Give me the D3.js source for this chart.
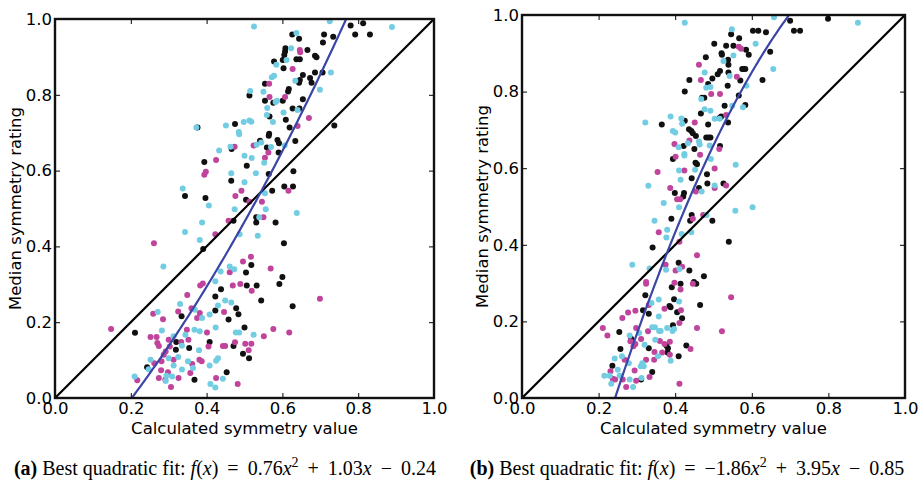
<!DOCTYPE html>
<html>
<head>
<meta charset="utf-8">
<script src="https://cdn.jsdelivr.net/npm/d3@7"></script>
<style>
  html, body { margin: 0; padding: 0; background: #fff; }
  svg { display: block; }
</style>
</head>
<body>
<svg id="chart" width="922" height="482"></svg>
<script>
// Tick values shared by both axes of both panels
const tickValues = [0, 0.2, 0.4, 0.6, 0.8, 1.0];

// Quadratic fit coefficients [a, b, c] for f(x) = a x^2 + b x + c
const fitA = [0.76, 1.03, -0.24];
const fitB = [-1.86, 3.95, -0.85];

// Panel (a): [calculated value, median rating]
const leftBlack = [[0.211,0.172],[0.243,0.081],[0.32,0.148],[0.319,0.127],[0.334,0.216],[0.354,0.132],[0.368,0.048],[0.391,0.393],[0.408,0.148],[0.423,0.268],[0.438,0.287],[0.423,0.231],[0.458,0.207],[0.453,0.068],[0.471,0.137],[0.484,0.221],[0.478,0.237],[0.496,0.117],[0.512,0.105],[0.5,0.186],[0.504,0.331],[0.506,0.297],[0.518,0.351],[0.532,0.297],[0.544,0.257],[0.592,0.301],[0.600,0.319],[0.627,0.242],[0.604,0.408],[0.531,0.477],[0.531,0.463],[0.582,0.463],[0.471,0.468],[0.343,0.533],[0.397,0.528],[0.504,0.523],[0.465,0.573],[0.573,0.547],[0.605,0.558],[0.628,0.558],[0.394,0.623],[0.506,0.613],[0.629,0.598],[0.564,0.591],[0.466,0.657],[0.541,0.679],[0.565,0.697],[0.564,0.692],[0.559,0.661],[0.587,0.681],[0.591,0.672],[0.590,0.648],[0.634,0.678],[0.475,0.723],[0.376,0.714],[0.609,0.734],[0.619,0.714],[0.737,0.719],[0.566,0.743],[0.627,0.764],[0.645,0.764],[0.554,0.784],[0.576,0.779],[0.601,0.784],[0.654,0.788],[0.513,0.798],[0.554,0.829],[0.617,0.815],[0.615,0.809],[0.644,0.832],[0.646,0.839],[0.677,0.832],[0.654,0.852],[0.673,0.844],[0.686,0.859],[0.706,0.859],[0.603,0.870],[0.578,0.888],[0.601,0.892],[0.637,0.894],[0.646,0.894],[0.686,0.903],[0.690,0.899],[0.666,0.918],[0.608,0.923],[0.607,0.914],[0.605,0.905],[0.707,0.938],[0.644,0.948],[0.626,0.959],[0.710,0.959],[0.734,0.953],[0.780,0.983],[0.813,0.989],[0.792,0.959],[0.831,0.959]];
const leftCyan = [[0.525,0.980],[0.725,0.994],[0.889,0.979],[0.637,0.963],[0.623,0.923],[0.611,0.892],[0.584,0.879],[0.578,0.850],[0.572,0.846],[0.728,0.859],[0.634,0.837],[0.515,0.810],[0.550,0.808],[0.699,0.813],[0.582,0.781],[0.586,0.784],[0.603,0.753],[0.640,0.760],[0.560,0.765],[0.559,0.747],[0.575,0.728],[0.451,0.719],[0.498,0.728],[0.513,0.732],[0.518,0.729],[0.373,0.714],[0.485,0.702],[0.486,0.696],[0.544,0.674],[0.532,0.668],[0.570,0.662],[0.606,0.666],[0.433,0.653],[0.463,0.663],[0.500,0.639],[0.519,0.633],[0.465,0.593],[0.530,0.593],[0.552,0.621],[0.500,0.569],[0.337,0.553],[0.406,0.508],[0.554,0.540],[0.474,0.498],[0.556,0.498],[0.638,0.488],[0.539,0.477],[0.388,0.463],[0.343,0.438],[0.487,0.432],[0.535,0.428],[0.382,0.417],[0.286,0.347],[0.461,0.347],[0.437,0.334],[0.473,0.340],[0.423,0.308],[0.330,0.248],[0.449,0.257],[0.465,0.252],[0.271,0.227],[0.369,0.233],[0.430,0.244],[0.408,0.220],[0.388,0.211],[0.282,0.178],[0.313,0.163],[0.344,0.167],[0.368,0.180],[0.382,0.176],[0.424,0.186],[0.477,0.173],[0.486,0.173],[0.524,0.167],[0.335,0.138],[0.380,0.126],[0.252,0.101],[0.247,0.076],[0.300,0.105],[0.313,0.086],[0.325,0.108],[0.294,0.059],[0.309,0.057],[0.292,0.045],[0.210,0.057],[0.335,0.075],[0.351,0.097],[0.364,0.079],[0.408,0.086],[0.425,0.098],[0.430,0.105],[0.443,0.051],[0.410,0.037],[0.423,0.028]];
const leftMagenta = [[0.646,0.918],[0.647,0.912],[0.627,0.868],[0.565,0.829],[0.566,0.794],[0.607,0.794],[0.670,0.739],[0.640,0.718],[0.524,0.666],[0.474,0.663],[0.563,0.648],[0.425,0.628],[0.398,0.597],[0.394,0.589],[0.554,0.634],[0.492,0.547],[0.476,0.533],[0.513,0.518],[0.546,0.518],[0.616,0.547],[0.550,0.477],[0.458,0.468],[0.423,0.432],[0.261,0.408],[0.517,0.373],[0.496,0.360],[0.569,0.342],[0.461,0.332],[0.383,0.297],[0.390,0.302],[0.469,0.297],[0.489,0.301],[0.519,0.283],[0.349,0.272],[0.360,0.237],[0.325,0.228],[0.259,0.222],[0.285,0.208],[0.382,0.224],[0.446,0.227],[0.699,0.262],[0.148,0.182],[0.375,0.211],[0.252,0.161],[0.268,0.161],[0.270,0.145],[0.274,0.137],[0.300,0.154],[0.303,0.136],[0.292,0.123],[0.348,0.180],[0.401,0.173],[0.576,0.182],[0.551,0.163],[0.618,0.173],[0.333,0.148],[0.352,0.154],[0.449,0.137],[0.443,0.137],[0.502,0.143],[0.518,0.143],[0.511,0.126],[0.405,0.136],[0.475,0.147],[0.262,0.092],[0.287,0.114],[0.281,0.097],[0.313,0.101],[0.280,0.073],[0.298,0.068],[0.274,0.053],[0.291,0.048],[0.326,0.053],[0.306,0.029],[0.217,0.047],[0.357,0.066],[0.362,0.090],[0.381,0.101],[0.387,0.097],[0.425,0.053],[0.482,0.037]];

// Panel (b): [calculated value, median rating]
const rightBlack = [[0.700,0.985],[0.799,0.990],[0.710,0.959],[0.726,0.959],[0.603,0.959],[0.617,0.959],[0.637,0.955],[0.546,0.950],[0.567,0.939],[0.502,0.925],[0.533,0.920],[0.552,0.920],[0.585,0.909],[0.648,0.904],[0.592,0.896],[0.521,0.900],[0.522,0.896],[0.480,0.890],[0.538,0.883],[0.539,0.870],[0.575,0.859],[0.579,0.859],[0.583,0.859],[0.517,0.854],[0.511,0.845],[0.539,0.850],[0.437,0.830],[0.497,0.834],[0.628,0.830],[0.570,0.829],[0.486,0.820],[0.537,0.815],[0.425,0.800],[0.470,0.784],[0.476,0.784],[0.566,0.790],[0.583,0.765],[0.529,0.763],[0.467,0.743],[0.520,0.735],[0.516,0.731],[0.365,0.714],[0.425,0.724],[0.486,0.714],[0.538,0.719],[0.436,0.702],[0.442,0.697],[0.446,0.691],[0.454,0.684],[0.481,0.680],[0.487,0.680],[0.492,0.680],[0.422,0.658],[0.450,0.650],[0.517,0.658],[0.394,0.624],[0.453,0.614],[0.457,0.610],[0.483,0.584],[0.443,0.574],[0.484,0.560],[0.526,0.560],[0.462,0.548],[0.399,0.535],[0.423,0.535],[0.421,0.526],[0.443,0.478],[0.390,0.468],[0.439,0.463],[0.497,0.463],[0.540,0.408],[0.341,0.393],[0.409,0.353],[0.437,0.333],[0.475,0.318],[0.449,0.303],[0.455,0.298],[0.414,0.298],[0.391,0.289],[0.322,0.268],[0.397,0.258],[0.465,0.243],[0.316,0.229],[0.331,0.220],[0.385,0.240],[0.388,0.237],[0.405,0.224],[0.418,0.208],[0.394,0.190],[0.254,0.172],[0.285,0.155],[0.257,0.128],[0.331,0.130],[0.377,0.137],[0.380,0.119],[0.429,0.137],[0.409,0.109],[0.236,0.084],[0.311,0.048],[0.340,0.068],[0.381,0.130]];
const rightCyan = [[0.425,0.980],[0.658,0.994],[0.877,0.980],[0.548,0.963],[0.610,0.925],[0.552,0.894],[0.526,0.880],[0.656,0.859],[0.477,0.850],[0.542,0.841],[0.481,0.810],[0.492,0.812],[0.586,0.815],[0.468,0.781],[0.577,0.759],[0.477,0.754],[0.492,0.750],[0.549,0.763],[0.503,0.729],[0.516,0.729],[0.388,0.735],[0.416,0.730],[0.322,0.719],[0.418,0.716],[0.394,0.697],[0.400,0.693],[0.462,0.670],[0.464,0.662],[0.433,0.665],[0.409,0.655],[0.490,0.659],[0.424,0.637],[0.424,0.633],[0.493,0.624],[0.452,0.596],[0.410,0.594],[0.558,0.609],[0.330,0.554],[0.414,0.570],[0.503,0.555],[0.469,0.539],[0.370,0.509],[0.410,0.498],[0.557,0.489],[0.602,0.498],[0.482,0.478],[0.346,0.463],[0.379,0.439],[0.417,0.428],[0.442,0.433],[0.377,0.419],[0.288,0.348],[0.333,0.338],[0.376,0.335],[0.411,0.337],[0.410,0.252],[0.338,0.248],[0.357,0.257],[0.357,0.213],[0.281,0.163],[0.306,0.170],[0.340,0.185],[0.347,0.185],[0.358,0.175],[0.362,0.175],[0.348,0.152],[0.379,0.183],[0.393,0.175],[0.397,0.180],[0.320,0.139],[0.242,0.103],[0.261,0.109],[0.250,0.074],[0.279,0.091],[0.215,0.058],[0.229,0.058],[0.233,0.037],[0.255,0.058],[0.281,0.048],[0.290,0.029],[0.312,0.052],[0.310,0.083],[0.318,0.083],[0.314,0.091],[0.355,0.109],[0.388,0.097]];
const rightMagenta = [[0.566,0.917],[0.572,0.912],[0.462,0.870],[0.561,0.839],[0.467,0.830],[0.494,0.794],[0.517,0.794],[0.533,0.739],[0.451,0.719],[0.437,0.672],[0.398,0.663],[0.515,0.650],[0.465,0.635],[0.401,0.630],[0.503,0.599],[0.354,0.590],[0.424,0.594],[0.503,0.548],[0.533,0.555],[0.387,0.548],[0.454,0.539],[0.405,0.519],[0.413,0.519],[0.473,0.478],[0.446,0.468],[0.357,0.433],[0.411,0.408],[0.457,0.373],[0.375,0.348],[0.401,0.333],[0.418,0.343],[0.324,0.303],[0.324,0.298],[0.446,0.298],[0.398,0.301],[0.414,0.283],[0.546,0.263],[0.331,0.243],[0.296,0.228],[0.372,0.233],[0.415,0.229],[0.277,0.223],[0.262,0.209],[0.411,0.196],[0.211,0.183],[0.223,0.163],[0.298,0.183],[0.329,0.174],[0.457,0.183],[0.522,0.174],[0.283,0.148],[0.291,0.135],[0.311,0.154],[0.296,0.141],[0.360,0.149],[0.372,0.141],[0.386,0.147],[0.440,0.128],[0.346,0.120],[0.366,0.119],[0.268,0.100],[0.231,0.070],[0.237,0.050],[0.243,0.048],[0.263,0.048],[0.272,0.029],[0.294,0.072],[0.298,0.045],[0.333,0.055],[0.324,0.100],[0.345,0.100],[0.386,0.113],[0.411,0.037]];

const colors = { black: "#111111", cyan: "#72cde2", magenta: "#c0449c", fit: "#3a45a6" };

const svg = d3.select("#chart");
svg.append("rect").attr("width", 922).attr("height", 482).attr("fill", "#fff");

const panels = [
  { id: "a", left: 55, top: 19, size: 379, fit: fitA,
    series: [[leftBlack, colors.black], [leftMagenta, colors.magenta], [leftCyan, colors.cyan]],
    ylabelX: 15, captionX: 225, label: "(a)" },
  { id: "b", left: 522, top: 15, size: 383, fit: fitB,
    series: [[rightBlack, colors.black], [rightMagenta, colors.magenta], [rightCyan, colors.cyan]],
    ylabelX: 482, captionX: 687, label: "(b)" }
];

const fmt = d3.format(".1f");
const sans = "'DejaVu Sans', sans-serif";
const serif = "'Liberation Serif', 'DejaVu Serif', serif";

panels.forEach(p => {
  const x = d3.scaleLinear().domain([0, 1]).range([p.left, p.left + p.size]);
  const y = d3.scaleLinear().domain([0, 1]).range([p.top + p.size, p.top]);

  const clipId = "clip-" + p.id;
  svg.append("clipPath").attr("id", clipId)
    .append("rect").attr("x", p.left).attr("y", p.top)
    .attr("width", p.size).attr("height", p.size);

  const g = svg.append("g");
  const plot = g.append("g").attr("clip-path", `url(#${clipId})`);

  // scatter points
  p.series.forEach(([data, color]) => {
    plot.append("g").selectAll("circle").data(data).join("circle")
      .attr("cx", d => x(d[0])).attr("cy", d => y(d[1]))
      .attr("r", 3).attr("fill", color);
  });

  // identity line
  plot.append("line")
    .attr("x1", x(0)).attr("y1", y(0)).attr("x2", x(1)).attr("y2", y(1))
    .attr("stroke", "#000").attr("stroke-width", 2.2);

  // quadratic fit curve
  const [a, b, c] = p.fit;
  const xs = d3.range(0, 1.0001, 0.005);
  const line = d3.line().x(d => x(d)).y(d => y(a * d * d + b * d + c));
  plot.append("path").datum(xs)
    .attr("d", line).attr("fill", "none")
    .attr("stroke", colors.fit).attr("stroke-width", 2.2);

  // inward ticks on all four sides
  const tl = 5;
  const ax = [
    d3.axisBottom(x).tickSizeInner(-tl).tickSizeOuter(0).tickPadding(6),
    d3.axisLeft(y).tickSizeInner(-tl).tickSizeOuter(0).tickPadding(6),
    d3.axisTop(x).tickSizeInner(-tl).tickSizeOuter(0),
    d3.axisRight(y).tickSizeInner(-tl).tickSizeOuter(0)
  ];
  ax.forEach(a => a.tickValues(tickValues).tickFormat(fmt));

  const bottom = g.append("g").attr("transform", `translate(0,${p.top + p.size})`).call(ax[0]);
  const leftAx = g.append("g").attr("transform", `translate(${p.left},0)`).call(ax[1]);
  const topAx = g.append("g").attr("transform", `translate(0,${p.top})`).call(ax[2]);
  const rightAx = g.append("g").attr("transform", `translate(${p.left + p.size},0)`).call(ax[3]);
  [topAx, rightAx].forEach(s => s.selectAll("text").remove());
  [bottom, leftAx, topAx, rightAx].forEach(s => {
    s.select(".domain").remove();
    s.selectAll("line").attr("stroke", "#000").attr("stroke-width", 1);
    s.selectAll("text").attr("font-family", sans).attr("font-size", 16.5).attr("fill", "#000");
  });
  bottom.selectAll("text").attr("dy", "0.71em").attr("y", 4);
  leftAx.selectAll("text").attr("x", -3);

  // frame
  g.append("rect").attr("x", p.left).attr("y", p.top)
    .attr("width", p.size).attr("height", p.size)
    .attr("fill", "none").attr("stroke", "#111").attr("stroke-width", 2.4);

  // axis titles
  g.append("text")
    .attr("x", p.left + p.size / 2).attr("y", 434)
    .attr("text-anchor", "middle").attr("font-family", sans).attr("font-size", 16.5)
    .text("Calculated symmetry value");
  g.append("text")
    .attr("transform", `translate(${p.ylabelX},${p.top + p.size / 2}) rotate(-90)`)
    .attr("text-anchor", "middle").attr("dy", "0.35em")
    .attr("font-family", sans).attr("font-size", 16.5)
    .text("Median symmetry rating");

  // caption with the fitted formula
  const fmt2 = v => Math.abs(v).toFixed(2);
  const sp = "\u2009";
  const cap = g.append("text")
    .attr("x", p.captionX).attr("y", 475)
    .attr("text-anchor", "middle")
    .attr("font-family", serif)
    .attr("font-size", 20).attr("fill", "#000");
  cap.append("tspan").attr("font-weight", "bold").text(p.label);
  cap.append("tspan").text(" Best quadratic fit: ");
  cap.append("tspan").attr("font-style", "italic").text("f");
  cap.append("tspan").text("(");
  cap.append("tspan").attr("font-style", "italic").text("x");
  cap.append("tspan").text(")" + sp + " = " + sp + (a < 0 ? "\u2212" : "") + fmt2(a));
  cap.append("tspan").attr("font-style", "italic").text("x");
  cap.append("tspan").attr("font-size", 14).attr("dy", -8).text("2");
  cap.append("tspan").attr("dy", 8).text(sp + " " + (b < 0 ? "\u2212" : "+") + " " + sp + fmt2(b));
  cap.append("tspan").attr("font-style", "italic").text("x");
  cap.append("tspan").text(sp + " " + (c < 0 ? "\u2212" : "+") + " " + sp + fmt2(c));
});
</script>
</body>
</html>
